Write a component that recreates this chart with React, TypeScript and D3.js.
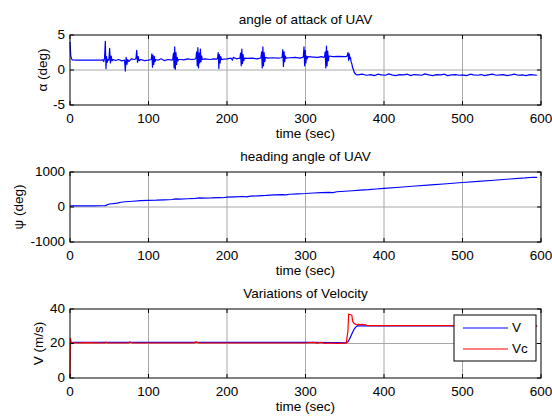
import React from "react";
import * as d3 from "d3";

// ---------- data ----------
const timeTicks = [0, 100, 200, 300, 400, 500, 600];

const alphaTicks = [-5, 0, 5];
const alphaData: [number, number][] = [
  [0, 4.0], [0.5, 3.0], [1, 2.0], [2, 1.6], [3, 1.45], [10, 1.4], [20, 1.42], [30, 1.4], [40, 1.4], [42, 1.45], [43, 1.2],
  [44, 1.7], [45, 4.1], [45.8, 0.2], [46.6, 1.9], [47.4, 1.1], [48.2, 1.5],
  [49.5, 1.4], [50.5, 3.1], [51.5, 1.0], [52.5, 2.0], [53.5, 1.3], [55, 1.5], [58, 1.35], [62, 1.5], [66, 1.3],
  [69.5, 1.4], [70.5, -0.15], [71.5, 1.8], [72.5, 0.8], [73.5, 1.5], [75, 1.2], [78, 1.6], [82, 1.5],
  [84, 1.6], [85, 2.8], [86, 1.1], [87, 1.9], [88, 1.3], [90, 1.5], [95, 1.35], [100, 1.4],
  [103.5, 1.5], [104.3, 2.3], [105.1, 0.4], [105.9, 2.1], [106.7, 0.8], [107.5, 1.9], [108.3, 1.2], [109.2, 1.5],
  [112, 1.4], [116, 1.6], [120, 1.35], [125, 1.5], [130, 1.4],
  [131, 1.6], [131.8, 2.4], [132.6, 0.3], [133.4, 3.3], [134.2, 0.1], [135, 2.5], [135.8, 0.8], [136.6, 1.8], [137.4, 1.3], [138.4, 1.5],
  [141, 1.5], [145, 1.45], [150, 1.6], [155, 1.5], [159, 1.55],
  [160.5, 1.7], [161.3, 2.6], [162.1, 0.6], [162.9, 3.2], [163.7, 0.3], [164.5, 2.4], [165.3, 1.0], [166.1, 3.0], [166.9, 1.2], [167.7, 2.0], [168.6, 1.5],
  [172, 1.6], [178, 1.5], [183, 1.6], [187, 1.55],
  [188, 1.7], [188.8, 2.5], [189.6, 0.2], [190.4, 2.2], [191.2, 1.0], [192, 1.9], [193, 1.5],
  [196, 1.55], [200, 1.6], [205, 1.7], [207, 1.4], [208, 1.8], [212, 1.6],
  [216.5, 1.7], [217.3, 2.4], [218.1, 0.6], [218.9, 3.0], [219.7, 0.9], [220.5, 2.2], [221.3, 1.3], [222.2, 1.7],
  [226, 1.65], [232, 1.7], [238, 1.6], [242.5, 1.7],
  [243.3, 1.8], [244.1, 2.6], [244.9, 0.3], [245.7, 3.3], [246.5, 0.6], [247.3, 2.5], [248.1, 1.2], [249, 1.8],
  [252, 1.7], [258, 1.75], [265, 1.7], [269.5, 1.75],
  [270.3, 1.9], [271.1, 2.9], [271.9, 0.5], [272.7, 2.6], [273.5, 1.2], [274.3, 2.0], [275.2, 1.7],
  [280, 1.75], [287, 1.8], [293, 1.7], [296.5, 1.8],
  [297.3, 2.0], [298.1, 3.3], [298.9, 0.6], [299.7, 2.8], [300.5, 1.0], [301.3, 2.0], [302.1, 1.6], [303, 1.9],
  [310, 1.85], [316, 1.8], [320, 1.9], [323.5, 1.8],
  [324.3, 1.9], [325.1, 2.6], [325.9, 0.3], [326.7, 3.4], [327.5, 0.6], [328.3, 2.7], [329.1, 1.3], [330, 2.0],
  [335, 1.9], [342, 1.95], [350, 1.9], [352.5, 1.95],
  [353.3, 2.1], [354.1, 2.5], [354.9, 1.4], [355.7, 2.3], [356.5, 1.6], [357.3, 1.8], [358, 1.2], [359, 0.9], [360, 0.3], [361, 0.1],
  [362, -0.3], [363, -0.5], [364.5, -0.65], [367, -0.7],
  [372, -0.6], [378, -0.75], [383, -0.65], [388, -0.8], [392, -0.6], [397, -0.7], [402, -0.75], [406, -0.55], [410, -0.7],
  [415, -0.8], [420, -0.65], [425, -0.7], [430, -0.6], [434, -0.8], [438, -0.65], [443, -0.7], [448, -0.75], [452, -0.55],
  [457, -0.7], [462, -0.8], [467, -0.65], [472, -0.7], [477, -0.6], [481, -0.8], [486, -0.7], [491, -0.65], [496, -0.75],
  [500, -0.7], [505, -0.8], [510, -0.6], [514, -0.7], [519, -0.75], [524, -0.65], [528, -0.8], [533, -0.7], [538, -0.6],
  [543, -0.75], [548, -0.7], [552, -0.65], [557, -0.8], [562, -0.7], [566, -0.6], [571, -0.75], [576, -0.7], [581, -0.8],
  [586, -0.65], [590, -0.7], [595, -0.75],
];

const psiTicks = [-1000, 0, 1000];
const psiData: [number, number][] = [
  [0, 30], [10, 30], [20, 32], [30, 33], [40, 35], [45, 40], [50, 85], [55, 95], [60, 110], [65, 135], [70, 150], [80, 165],
  [90, 180], [100, 190], [110, 195], [120, 205], [130, 215], [135, 230], [140, 225], [150, 235], [160, 245], [165, 260],
  [170, 255], [180, 260], [190, 270], [195, 265], [200, 280], [210, 290], [220, 300], [225, 290], [230, 310], [240, 320],
  [250, 330], [260, 345], [270, 355], [275, 348], [280, 365], [290, 375], [300, 385], [310, 400], [320, 410], [330, 420],
  [335, 412], [340, 435], [350, 450], [360, 465], [370, 480], [380, 495], [390, 515], [400, 530], [420, 565], [440, 600],
  [460, 630], [480, 665], [500, 700], [520, 730], [540, 765], [560, 800], [580, 830], [590, 850], [595, 845],
];

const velTicks = [0, 20, 40];
const vData: [number, number][] = [
  [0, 20.5], [5, 20.6], [100, 20.6], [200, 20.6], [300, 20.6], [340, 20.5], [350, 20.4], [352, 20.5], [354, 21], [356, 22.5],
  [358, 24.5], [360, 26.5], [362, 28.3], [364, 29.5], [366, 30.2], [368, 30.3], [370, 30.2], [380, 30.2], [595, 30.2],
];
const vcData: [number, number][] = [
  [0, 0], [0.5, 23], [1.5, 20.8], [2.5, 20.5], [10, 20.3], [20, 20.5], [45, 20.3], [46, 20.8], [48, 20.3], [75, 20.3],
  [76, 20.9], [80, 20.3], [158, 20.3], [160, 20.9], [165, 20.3], [300, 20.3], [310, 20.6], [315, 20.2], [320, 20.6],
  [325, 20.1], [330, 20.3], [340, 20.1], [352, 20.2], [353, 24], [354, 27], [355, 37], [357, 36.8], [359, 36.5], [360, 33],
  [362, 31.5], [364, 31.2], [366, 30.8], [368, 31.2], [370, 30.8], [372, 31.2], [374, 30.8], [376, 31], [378, 30.4],
  [380, 30.4], [595, 30.4],
];

const titles = ["angle of attack of UAV", "heading angle of UAV", "Variations of Velocity"];
const yLabels = ["\u03b1  (deg)", "\u03c8  (deg)", "V (m/s)"];
const xLabel = "time (sec)";
const legendNames = ["V", "Vc"];

// ---------- layout ----------
const W = 552;
const H = 416;
const left = 70;
const right = 541;
const FONT = "'Liberation Sans', Arial, sans-serif";

type Panel = {
  top: number;
  height: number;
  domain: [number, number];
  ticks: number[];
  title: string;
  ylabel: string;
  ylabelX: number;
  series: { data: [number, number][]; color: string }[];
};

const panels: Panel[] = [
  { top: 35, height: 70, domain: [-5, 5], ticks: alphaTicks, title: titles[0], ylabel: yLabels[0], ylabelX: 43, series: [{ data: alphaData, color: "#0000ff" }] },
  { top: 172, height: 70, domain: [-1000, 1000], ticks: psiTicks, title: titles[1], ylabel: yLabels[1], ylabelX: 19, series: [{ data: psiData, color: "#0000ff" }] },
  { top: 309, height: 69, domain: [0, 40], ticks: velTicks, title: titles[2], ylabel: yLabels[2], ylabelX: 39, series: [{ data: vData, color: "#0000ff" }, { data: vcData, color: "#ff0000" }] },
];

function PanelView({ p, legend }: { p: Panel; legend: boolean }) {
  const x = d3.scaleLinear().domain([0, 600]).range([left, right]);
  const y = d3.scaleLinear().domain(p.domain).range([p.top + p.height, p.top]);
  const line = d3.line<[number, number]>().x((d) => x(d[0])).y((d) => y(d[1]));
  const bottom = p.top + p.height;
  const tl = 4;
  return (
    <g>
      {timeTicks.slice(1, -1).map((t) => (
        <line key={"gx" + t} x1={x(t)} x2={x(t)} y1={p.top} y2={bottom} stroke="#a8a8a8" strokeWidth={1} />
      ))}
      {p.ticks.slice(1, -1).map((t) => (
        <line key={"gy" + t} x1={left} x2={right} y1={y(t)} y2={y(t)} stroke="#a8a8a8" strokeWidth={1} />
      ))}
      <g>
        {p.series.map((s, i) => (
          <path key={i} d={line(s.data) || ""} fill="none" stroke={s.color} strokeWidth={1.2} strokeLinejoin="round" />
        ))}
      </g>
      {timeTicks.map((t) => (
        <g key={"tx" + t}>
          <line x1={x(t)} x2={x(t)} y1={bottom} y2={bottom - tl} stroke="#000" />
          <line x1={x(t)} x2={x(t)} y1={p.top} y2={p.top + tl} stroke="#000" />
          <text x={x(t)} y={bottom + 14} textAnchor="middle" dominantBaseline="middle" fontSize={13.5} fontFamily={FONT} fill="#000">
            {t}
          </text>
        </g>
      ))}
      {p.ticks.map((t) => (
        <g key={"ty" + t}>
          <line x1={left} x2={left + tl} y1={y(t)} y2={y(t)} stroke="#000" />
          <line x1={right} x2={right - tl} y1={y(t)} y2={y(t)} stroke="#000" />
          <text x={left - 5} y={y(t)} textAnchor="end" dominantBaseline="middle" fontSize={13.5} fontFamily={FONT} fill="#000">
            {t}
          </text>
        </g>
      ))}
      <rect x={left} y={p.top} width={right - left} height={p.height} fill="none" stroke="#000" strokeWidth={1} />
      <text x={(left + right) / 2} y={p.top - 15} textAnchor="middle" dominantBaseline="middle" fontSize={13.5} fontFamily={FONT} fill="#000">
        {p.title}
      </text>
      <text x={(left + right) / 2} y={bottom + 29} textAnchor="middle" dominantBaseline="middle" fontSize={13.5} fontFamily={FONT} fill="#000">
        {xLabel}
      </text>
      <text
        transform={`translate(${p.ylabelX},${p.top + p.height / 2}) rotate(-90)`}
        textAnchor="middle"
        dominantBaseline="middle"
        fontSize={13.5}
        fontFamily={FONT}
        fill="#000"
      >
        {p.ylabel}
      </text>
      {legend && (
        <g>
          <rect x={454} y={315} width={82} height={46} fill="#fff" stroke="#000" strokeWidth={1} />
          {p.series.map((s, i) => (
            <g key={"lg" + i}>
              <line x1={463} x2={508} y1={328 + i * 21} y2={328 + i * 21} stroke={s.color} strokeWidth={1.2} />
              <text x={512} y={328 + i * 21} dominantBaseline="middle" fontSize={13.5} fontFamily={FONT} fill="#000">
                {legendNames[i]}
              </text>
            </g>
          ))}
        </g>
      )}
    </g>
  );
}

export default function App() {
  return (
    <svg width={W} height={H} style={{ position: "absolute", left: 0, top: 0, background: "#fff" }}>
      <rect x={0} y={0} width={W} height={H} fill="#fff" />
      {panels.map((p, i) => (
        <PanelView key={i} p={p} legend={i === 2} />
      ))}
    </svg>
  );
}
